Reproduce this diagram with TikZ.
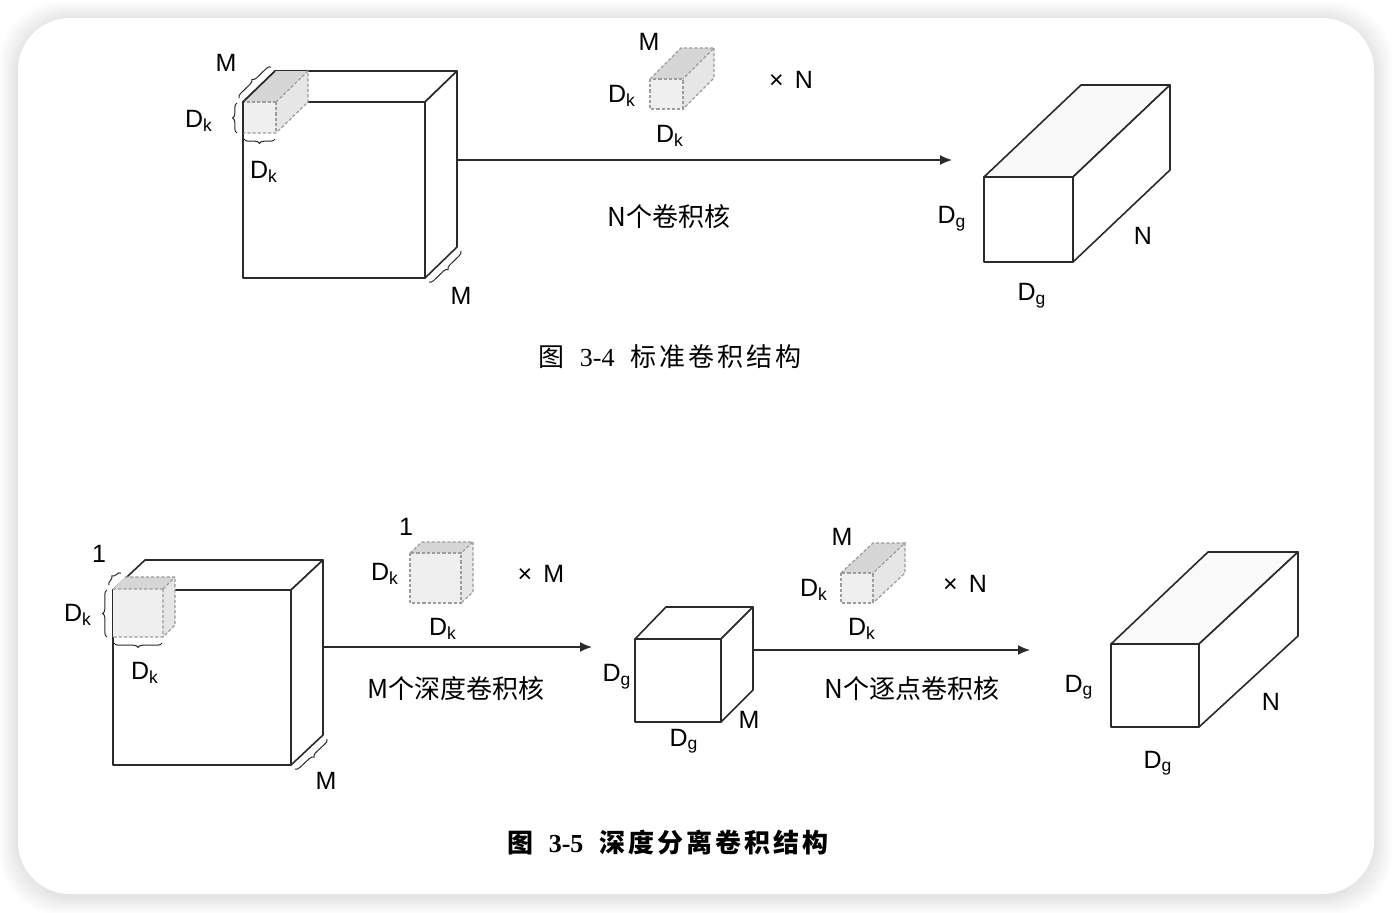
\documentclass[tikz,border=0pt]{standalone}
\usepackage{fontspec}
\setmainfont{Liberation Sans}
\newfontfamily\cjk{Noto Sans CJK SC}
\newfontfamily\capcjk[LetterSpace=12]{Noto Sans CJK SC}
\newfontfamily\capserif{Liberation Serif}
\usetikzlibrary{arrows.meta}
\usetikzlibrary{decorations.pathreplacing}

\definecolor{edge}{HTML}{2A2A2A}
\definecolor{kedge}{HTML}{9C9C9C}
\definecolor{kfront}{HTML}{EFEFEF}
\definecolor{ktop}{HTML}{D6D6D6}
\definecolor{kside}{HTML}{E6E6E6}

\begin{document}
\begin{tikzpicture}[x=0.5pt, y=-0.5pt,
    face/.style={draw=edge, line width=0.8pt, fill=white, line join=round},
    kernel/.style={draw=kedge, line width=0.6pt, dash pattern=on 1.6pt off 1pt},
    lbl/.style={font=\fontsize{12.5}{14}\selectfont, inner sep=0pt},
    zh/.style={font=\fontsize{13}{15}\selectfont\cjk, inner sep=0pt},
    brc/.style={draw=edge, line width=0.5pt, decorate, decoration={brace, amplitude=2.2pt}},
    arr/.style={draw=edge, line width=0.8pt, -{Latex[length=6pt,width=5pt]}}]

    % card with soft shadow
    \useasboundingbox (0,0) rectangle (1392,912);
    \foreach \i in {1,...,9}
        \fill[black, opacity=0.011, rounded corners=30] (18-2*\i,18-2*\i+2) rectangle (1374+2*\i,894+2*\i+2);
    \fill[white, rounded corners=26] (18,18) rectangle (1374,894);

    % ---------- figure 3-4 ----------
    % input volume
    \draw[face] (243,102) -- (275,71) -- (457,71) -- (425,102) -- cycle;
    \draw[face] (425,102) -- (457,71) -- (457,247) -- (425,278) -- cycle;
    \draw[face] (243,102) rectangle (425,278);
    % kernel at the corner
    \fill[kfront] (243,102) rectangle (276,133);
    \fill[ktop] (243,102) -- (275,71) -- (308,71) -- (276,102) -- cycle;
    \fill[kside] (276,102) -- (308,71) -- (308,102) -- (276,133) -- cycle;
    \draw[kernel] (276,102) -- (308,71) -- (308,102) -- (276,133) -- (243,133);
    \draw[kernel] (276,102) -- (276,133) (276,102) -- (243,102);
    \draw[edge, line width=0.8pt] (243,102) -- (275,71) (243,102) -- (243,133);

    \draw[brc] (239,98) -- (271,67);
    \draw[brc] (237,133) -- (237,103);
    \draw[brc] (275,139) -- (244,139);
    \draw[brc] (461,251) -- (429,282);

    \node (M_in1)  [lbl] at (226,63)  {M};
    \node (Dk_in1) [lbl] at (199,121) {D\textsubscript{k}};
    \node (Dk_in2) [lbl] at (264,172) {D\textsubscript{k}};
    \node (M_in2)  [lbl] at (461,296) {M};

    % kernel above the arrow
    \fill[kfront] (650,79) rectangle (683,109);
    \fill[ktop] (650,79) -- (681,48) -- (714,48) -- (683,79) -- cycle;
    \fill[kside] (683,79) -- (714,48) -- (714,78) -- (683,109) -- cycle;
    \draw[kernel] (650,79) rectangle (683,109);
    \draw[kernel] (650,79) -- (681,48) -- (714,48) -- (683,79);
    \draw[kernel] (714,48) -- (714,78) -- (683,109);

    \node (M_k1)  [lbl] at (649,42)  {M};
    \node (Dk_k1) [lbl] at (622,96)  {D\textsubscript{k}};
    \node (Dk_k2) [lbl] at (670,136) {D\textsubscript{k}};
    \node (xN_1)  [lbl] at (791,80)  {×\hspace{0.45em}N};

    \coordinate (IN_A) at (457,160);
    \coordinate (END_A) at (952,160);
    \draw[arr] (IN_A) -- (END_A);
    \node (conv_std) [zh] at (669,217) {N个卷积核};

    % output volume
    \draw[face, fill=gray!5] (984,177) -- (1081,85) -- (1170,85) -- (1073,177) -- cycle;
    \draw[face] (1073,177) -- (1170,85) -- (1170,170) -- (1073,262) -- cycle;
    \draw[face] (984,177) rectangle (1073,262);

    \node (Dg_o1) [lbl] at (952,219)  {D\textsubscript{g}};
    \node (N_o1)  [lbl] at (1143,236) {N};
    \node (Dg_o2) [lbl] at (1032,296) {D\textsubscript{g}};

    \node (cap_A) [inner sep=0pt] at (670,357) {\fontsize{13}{15}\selectfont\capcjk 图\hspace{0.6em}{\capserif 3-4}\hspace{0.6em}标准卷积结构};

    % ---------- figure 3-5 ----------
    % input volume
    \draw[face] (113,590) -- (145,560) -- (323,560) -- (291,590) -- cycle;
    \draw[face] (291,590) -- (323,560) -- (323,735) -- (291,765) -- cycle;
    \draw[face] (113,590) rectangle (291,765);
    % depthwise kernel at the corner
    \fill[kfront] (113,589) rectangle (163,637);
    \fill[ktop] (113,589) -- (125,577) -- (175,577) -- (163,589) -- cycle;
    \fill[kside] (163,589) -- (175,577) -- (175,625) -- (163,637) -- cycle;
    \draw[kernel] (125,577) -- (175,577) -- (175,625) -- (163,637) -- (113,637);
    \draw[kernel] (163,589) -- (163,637) (163,589) -- (175,577) (163,589) -- (113,589);

    \draw[brc] (109,585) -- (121,573);
    \draw[brc] (107,637) -- (107,590);
    \draw[brc] (162,643) -- (114,643);
    \draw[brc] (327,739) -- (295,769);

    \node (one_in) [lbl] at (99,554)  {1};
    \node (Dk_in3) [lbl] at (78,615)  {D\textsubscript{k}};
    \node (Dk_in4) [lbl] at (145,673) {D\textsubscript{k}};
    \node (M_in3)  [lbl] at (326,781) {M};

    % depthwise kernel above arrow
    \fill[kfront] (410,553) rectangle (461,603);
    \fill[ktop] (410,553) -- (422,542) -- (473,542) -- (461,553) -- cycle;
    \fill[kside] (461,553) -- (473,542) -- (473,592) -- (461,603) -- cycle;
    \draw[kernel] (410,553) rectangle (461,603);
    \draw[kernel] (410,553) -- (422,542) -- (473,542) -- (461,553);
    \draw[kernel] (473,542) -- (473,592) -- (461,603);

    \node (one_k)  [lbl] at (406,527) {1};
    \node (Dk_k3)  [lbl] at (385,574) {D\textsubscript{k}};
    \node (Dk_k4)  [lbl] at (443,629) {D\textsubscript{k}};
    \node (xM)     [lbl] at (541,574) {×\hspace{0.45em}M};

    \coordinate (IN_B) at (323,647);
    \coordinate (END_B) at (592,647);
    \draw[arr] (IN_B) -- (END_B);
    \node (conv_dw) [zh] at (456,689) {M个深度卷积核};

    % intermediate volume
    \draw[face] (635,639) -- (666,607) -- (753,607) -- (721,639) -- cycle;
    \draw[face] (721,639) -- (753,607) -- (753,690) -- (721,722) -- cycle;
    \draw[face] (635,639) rectangle (721,722);

    \node (Dg_m1) [lbl] at (617,677) {D\textsubscript{g}};
    \node (Dg_m2) [lbl] at (684,741) {D\textsubscript{g}};
    \node (M_m)   [lbl] at (749,720) {M};

    % pointwise kernel above arrow
    \fill[kfront] (841,573) rectangle (873,603);
    \fill[ktop] (841,573) -- (873,543) -- (905,543) -- (873,573) -- cycle;
    \fill[kside] (873,573) -- (905,543) -- (905,573) -- (873,603) -- cycle;
    \draw[kernel] (841,573) rectangle (873,603);
    \draw[kernel] (841,573) -- (873,543) -- (905,543) -- (873,573);
    \draw[kernel] (905,543) -- (905,573) -- (873,603);

    \node (M_k3)  [lbl] at (842,537) {M};
    \node (Dk_k5) [lbl] at (814,590) {D\textsubscript{k}};
    \node (Dk_k6) [lbl] at (862,629) {D\textsubscript{k}};
    \node (xN_2)  [lbl] at (965,584) {×\hspace{0.45em}N};

    \coordinate (IN_C) at (753,650);
    \coordinate (END_C) at (1030,650);
    \draw[arr] (IN_C) -- (END_C);
    \node (conv_pw) [zh] at (912,689) {N个逐点卷积核};

    % output volume
    \draw[face, fill=gray!4] (1111,644) -- (1208,552) -- (1298,552) -- (1199,644) -- cycle;
    \draw[face] (1199,644) -- (1298,552) -- (1298,636) -- (1199,727) -- cycle;
    \draw[face] (1111,644) rectangle (1199,727);

    \node (Dg_o3) [lbl] at (1079,687) {D\textsubscript{g}};
    \node (N_o2)  [lbl] at (1271,702) {N};
    \node (Dg_o4) [lbl] at (1158,763) {D\textsubscript{g}};

    \node (cap_B) [inner sep=0pt] at (668,842) {\fontsize{13}{15}\selectfont\capcjk\bfseries 图\hspace{0.6em}{\capserif\bfseries 3-5}\hspace{0.6em}深度分离卷积结构};

\end{tikzpicture}
\end{document}
